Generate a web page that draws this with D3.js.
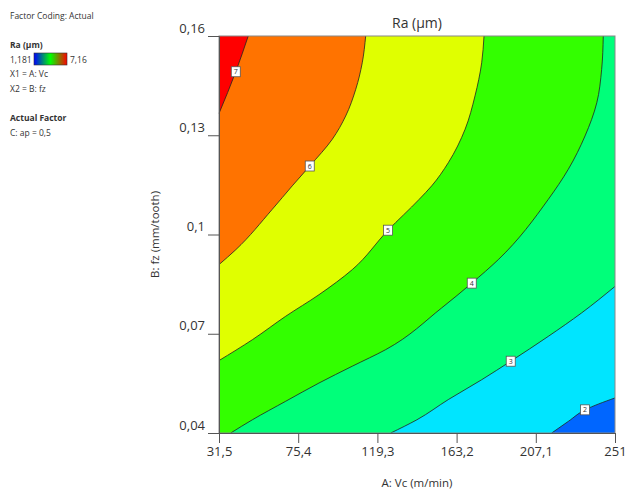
<!DOCTYPE html>
<html>
<head>
<meta charset="utf-8">
<script src="https://d3js.org/d3.v7.min.js"></script>
<style>
  body { margin: 0; background: #fff; }
  text { font-family: "Open Sans", "Noto Sans", sans-serif; fill: #333; }
</style>
</head>
<body>
<div id="chart"></div>
<script>
// axis ticks
var vcTicks = [31.5, 75.4, 119.3, 163.2, 207.1, 251];
var fzTicks = [0.04, 0.07, 0.1, 0.13, 0.16];

// contour levels, colour of the band above each level, and the lowest band
var levels = [2, 3, 4, 5, 6, 7];
var bandColors = ["#00e5ff", "#00ff7a", "#33ff00", "#e0ff00", "#ff7300", "#ff0000"];
var baseColor = "#0066ff";

// contour lines, [Vc, fz]
var c2 = [[251, 0.0506], [234.4, 0.0470], [225.1, 0.0435], [215.9, 0.04]];
var c3 = [[251, 0.0843], [232.5, 0.0763], [214.0, 0.0692], [193.2, 0.0617], [177.1, 0.0561],
          [158.6, 0.0501], [141.2, 0.0440], [126.7, 0.04]];
var c4 = [[244.5, 0.16], [243.6, 0.1499], [240.9, 0.1398], [234.4, 0.1298], [225.1, 0.1197],
          [214.0, 0.1106], [186.3, 0.0924], [171.6, 0.0853], [154.9, 0.0778], [123.9, 0.0652],
          [105.4, 0.0602], [86.9, 0.0551], [68.5, 0.0496], [50.0, 0.0440], [38.0, 0.04]];
var c5 = [[178.4, 0.16], [177.1, 0.1519], [173.4, 0.1419], [167.9, 0.1318], [158.6, 0.1217],
          [149.4, 0.1147], [142.4, 0.1106], [125.2, 0.1013], [105.4, 0.0894], [86.9, 0.0818],
          [68.5, 0.0753], [50.0, 0.0682], [31.5, 0.0619]];
var c6 = [[112.8, 0.16], [110.9, 0.1519], [107.3, 0.1439], [101.7, 0.1358], [94.3, 0.1288],
          [81.8, 0.1207], [72.1, 0.1147], [61.0, 0.1076], [40.8, 0.0954], [31.5, 0.0909]];
var c7 = [[47.7, 0.16], [40.8, 0.1492], [31.5, 0.1366]];
var contours = [c2, c3, c4, c5, c6, c7];
// which point of each contour carries its label
var labelAt = [1, 3, 7, 7, 5, 1];

var margin = { top: 36, right: 22, bottom: 56, left: 219 },
    width = 637 - margin.left - margin.right,
    height = 489 - margin.top - margin.bottom;

var svg = d3.select("#chart").append("svg")
    .attr("width", 637)
    .attr("height", 489);

var g = svg.append("g")
    .attr("transform", "translate(" + margin.left + "," + margin.top + ")");

var x = d3.scaleLinear().domain([31.5, 251]).range([0, width]);
var y = d3.scaleLinear().domain([0.04, 0.16]).range([height, 0]);

var line = d3.line()
    .x(function (d) { return x(d[0]); })
    .y(function (d) { return y(d[1]); })
    .curve(d3.curveMonotoneY);

// close each region round the top-left part of the frame
var corners = [[31.5, 0.04], [31.5, 0.16], [251, 0.16]];
function region(c) {
    var p = line(c);
    corners.forEach(function (k) { p += "L" + x(k[0]) + "," + y(k[1]); });
    return p + "Z";
}

g.append("rect")
    .attr("width", width)
    .attr("height", height)
    .attr("fill", baseColor);

g.selectAll(".band")
    .data(contours)
    .enter().append("path")
    .attr("class", "band")
    .attr("d", region)
    .attr("fill", function (d, i) { return bandColors[i]; });

g.selectAll(".cline")
    .data(contours)
    .enter().append("path")
    .attr("class", "cline")
    .attr("d", line)
    .attr("fill", "none")
    .attr("stroke", "#222")
    .attr("stroke-width", 0.8);

// frame
g.append("rect")
    .attr("width", width)
    .attr("height", height)
    .attr("fill", "none")
    .attr("stroke", "#888")
    .attr("stroke-width", 1);

// contour labels
var lab = g.selectAll(".clabel")
    .data(contours)
    .enter().append("g")
    .attr("class", "clabel")
    .attr("transform", function (d, i) {
        var p = d[labelAt[i]];
        return "translate(" + x(p[0]) + "," + y(p[1]) + ")";
    });
lab.append("rect")
    .attr("x", -4.5).attr("y", -5)
    .attr("width", 9).attr("height", 10)
    .attr("fill", "#fff")
    .attr("stroke", "#555")
    .attr("stroke-width", 0.8);
lab.append("text")
    .attr("text-anchor", "middle")
    .attr("y", 2.5)
    .style("font-size", "7px")
    .text(function (d, i) { return levels[i]; });

var fmt = function (d) { return String(d).replace(".", ","); };

// X axis
var xAxis = g.append("g")
    .attr("transform", "translate(0," + height + ")")
    .call(d3.axisBottom(x).tickValues(vcTicks).tickSize(10).tickPadding(4).tickFormat(fmt));
xAxis.select(".domain").attr("stroke", "#555");
xAxis.selectAll(".tick line").attr("stroke", "#555");
xAxis.selectAll("text").style("font-size", "13px").attr("fill", "#333");

g.append("text")
    .attr("text-anchor", "middle")
    .attr("x", width / 2)
    .attr("y", height + 54)
    .style("font-size", "11.5px")
    .text("A: Vc (m/min)");

// Y axis
var yAxis = g.append("g")
    .call(d3.axisLeft(y).tickValues(fzTicks).tickSize(11).tickPadding(3).tickFormat(fmt));
yAxis.select(".domain").attr("stroke", "#555");
yAxis.selectAll(".tick line").attr("stroke", "#555");
yAxis.selectAll("text").style("font-size", "13px").attr("fill", "#333").attr("dy", "-0.3em");

g.append("text")
    .attr("text-anchor", "middle")
    .attr("transform", "rotate(-90)")
    .attr("x", -height / 2)
    .attr("y", -60)
    .style("font-size", "11.5px")
    .text("B: fz (mm/tooth)");

// title
g.append("text")
    .attr("text-anchor", "middle")
    .attr("x", width / 2)
    .attr("y", -8)
    .style("font-size", "14px")
    .text("Ra (µm)");

// legend on the left
var defs = svg.append("defs");
var grad = defs.append("linearGradient").attr("id", "ramp");
grad.append("stop").attr("offset", "0%").attr("stop-color", "#0000ff");
grad.append("stop").attr("offset", "50%").attr("stop-color", "#00ff00");
grad.append("stop").attr("offset", "100%").attr("stop-color", "#ff0000");

var leg = svg.append("g").style("font-size", "8.5px");
leg.append("text").attr("x", 10).attr("y", 19).text("Factor Coding: Actual");
leg.append("text").attr("x", 10).attr("y", 48).style("font-weight", "bold").text("Ra (µm)");
leg.append("text").attr("x", 10).attr("y", 63).text("1,181");
leg.append("rect").attr("x", 34).attr("y", 53).attr("width", 33).attr("height", 12)
    .attr("fill", "url(#ramp)").attr("stroke", "#333").attr("stroke-width", 0.6);
leg.append("text").attr("x", 70).attr("y", 63).text("7,16");
leg.append("text").attr("x", 10).attr("y", 77).text("X1 = A: Vc");
leg.append("text").attr("x", 10).attr("y", 92).text("X2 = B: fz");
leg.append("text").attr("x", 10).attr("y", 121).style("font-weight", "bold").text("Actual Factor");
leg.append("text").attr("x", 10).attr("y", 136).text("C: ap = 0,5");
</script>
</body>
</html>
